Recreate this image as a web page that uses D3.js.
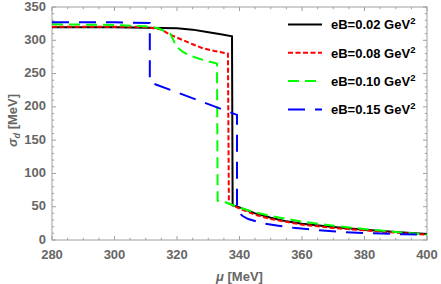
<!DOCTYPE html>
<html>
<head>
<meta charset="utf-8">
<script src="https://cdn.jsdelivr.net/npm/d3@7"></script>
<style>
  body { margin: 0; background: #fff; }
  text { font-family: "Liberation Sans", Arial, sans-serif; font-weight: bold; }
</style>
</head>
<body>
<div id="chart"></div>
<script>
// series data: mu [MeV] and sigma_d [MeV]
var mu002 = [280, 300, 310, 315, 320, 325, 329.6, 334, 337.6, 337.8, 338.6, 340, 345, 350, 355, 360, 370, 380, 390, 400];
var sig002 = [319.5, 319.5, 319, 318.5, 318, 316, 312.5, 309, 306, 52, 51, 49, 40, 33.5, 28, 24.5, 19.5, 15.5, 12, 9];

var mu008 = [280, 300, 310, 315, 318, 322, 325, 328.3, 332, 336.3, 336.6, 338, 340, 345, 350, 360, 370, 380, 390, 400];
var sig008 = [320.5, 320.5, 320, 316, 308, 300, 294, 288, 284, 280, 55, 52, 47, 38, 31.5, 23, 18, 14.5, 11, 8];

var mu010 = [280, 300, 310, 314, 317.8, 319.9, 322, 324.2, 328, 332.8, 333, 334.3, 338.6, 340, 345, 350, 360, 370, 380, 390, 400];
var sig010 = [324, 323, 321, 318, 310, 290, 282, 277, 271, 265, 59, 59, 51, 48.5, 41.5, 36, 27.5, 21.5, 16.5, 12, 8];

var mu015 = [280, 300, 311.3, 311.3, 339.2, 339.2, 341, 342.8, 347.6, 352.4, 357.2, 365, 373, 383, 393, 400];
var sig015 = [327, 327, 326, 237, 188, 44, 36, 31.5, 25, 21.5, 18.5, 15, 12, 10, 8.5, 8];

var seriesNames = ["0.02", "0.08", "0.10", "0.15"];
var seriesColors = ["#000000", "#ff0000", "#00ff00", "#0000ff"];
var seriesDash = [null, "5,2.5", "11,6", "17,10"];

var xTicks = [280, 300, 320, 340, 360, 380, 400];
var yTicks = [0, 50, 100, 150, 200, 250, 300, 350];

var svgWidth = 441;
var svgHeight = 284;
var margin = { top: 7, right: 14, bottom: 44, left: 52 };
var width = svgWidth - margin.left - margin.right;
var height = svgHeight - margin.top - margin.bottom;

var svg = d3.select("#chart")
  .append("svg")
  .attr("width", svgWidth)
  .attr("height", svgHeight);

var chartGroup = svg.append("g")
  .attr("transform", `translate(${margin.left}, ${margin.top})`);

var x = d3.scaleLinear().domain([280, 400]).range([0, width]);
var y = d3.scaleLinear().domain([0, 350]).range([height, 0]);

var frameColor = "#a0a0a0";
var labelColor = "#666666";

// minor/major ticks on all four sides, pointing inward
var xMinor = d3.range(280, 400.1, 5);
var yMinor = d3.range(0, 350.1, 10);

function tickLines(vals, isX, major, side) {
  var len = major ? 4 : 2.2;
  chartGroup.append("g").selectAll("line")
    .data(vals)
    .enter()
    .append("line")
    .attr("x1", d => isX ? x(d) : (side === 0 ? 0 : width))
    .attr("x2", d => isX ? x(d) : (side === 0 ? len : width - len))
    .attr("y1", d => isX ? (side === 0 ? height : 0) : y(d))
    .attr("y2", d => isX ? (side === 0 ? height - len : len) : y(d))
    .attr("stroke", frameColor)
    .attr("stroke-width", 1);
}
[0, 1].forEach(function(s) {
  tickLines(xMinor.filter(v => xTicks.indexOf(v) < 0), true, false, s);
  tickLines(xTicks, true, true, s);
  tickLines(yMinor.filter(v => yTicks.indexOf(v) < 0), false, false, s);
  tickLines(yTicks, false, true, s);
});

chartGroup.append("rect")
  .attr("width", width)
  .attr("height", height)
  .attr("fill", "none")
  .attr("stroke", frameColor)
  .attr("stroke-width", 1);

// tick labels
chartGroup.append("g").selectAll("text")
  .data(xTicks)
  .enter()
  .append("text")
  .attr("x", d => x(d))
  .attr("y", height + 18.5)
  .attr("text-anchor", "middle")
  .attr("font-size", "13px")
  .attr("fill", labelColor)
  .text(d => d);

chartGroup.append("g").selectAll("text")
  .data(yTicks)
  .enter()
  .append("text")
  .attr("x", -6)
  .attr("y", d => y(d) - 1)
  .attr("dy", "0.35em")
  .attr("text-anchor", "end")
  .attr("font-size", "13px")
  .attr("fill", labelColor)
  .text(d => d);

// axis titles
chartGroup.append("text")
  .attr("x", width / 2)
  .attr("y", height + 41)
  .attr("text-anchor", "middle")
  .attr("font-size", "13px")
  .attr("fill", labelColor)
  .html('<tspan font-style="italic">μ</tspan> [MeV]');

chartGroup.append("text")
  .attr("transform", `translate(${-35}, ${height / 2 - 3}) rotate(-90)`)
  .attr("text-anchor", "middle")
  .attr("font-size", "13px")
  .attr("fill", labelColor)
  .html('<tspan font-style="italic">σ</tspan><tspan font-style="italic" font-size="9px" dy="3">d</tspan><tspan dy="-3"> [MeV]</tspan>');

// curves
var lineGen = d3.line()
  .x(d => x(d[0]))
  .y(d => y(d[1]));

var allMu = [mu002, mu008, mu010, mu015];
var allSig = [sig002, sig008, sig010, sig015];

svg.append("defs").append("clipPath").attr("id", "plotclip")
  .append("rect").attr("width", width).attr("height", height);

allMu.forEach(function(muArr, i) {
  var pts = muArr.map((m, j) => [m, allSig[i][j]]);
  chartGroup.append("path")
    .datum(pts)
    .attr("clip-path", "url(#plotclip)")
    .attr("fill", "none")
    .attr("stroke", seriesColors[i])
    .attr("stroke-width", 2)
    .attr("stroke-dasharray", seriesDash[i])
    .attr("d", lineGen);
});

// legend
var legendGroup = svg.append("g");
seriesNames.forEach(function(name, i) {
  var ly = 24.5 + i * 28.3;
  legendGroup.append("line")
    .attr("x1", 288)
    .attr("x2", 322)
    .attr("y1", ly)
    .attr("y2", ly)
    .attr("stroke", seriesColors[i])
    .attr("stroke-width", 2)
    .attr("stroke-dasharray", seriesDash[i]);
  legendGroup.append("text")
    .attr("x", 331)
    .attr("y", ly)
    .attr("dy", "0.38em")
    .attr("font-size", "13px")
    .attr("fill", "#000")
    .html(`eB=${name} GeV<tspan font-size="9.5px" dy="-5">2</tspan>`);
});
</script>
</body>
</html>
